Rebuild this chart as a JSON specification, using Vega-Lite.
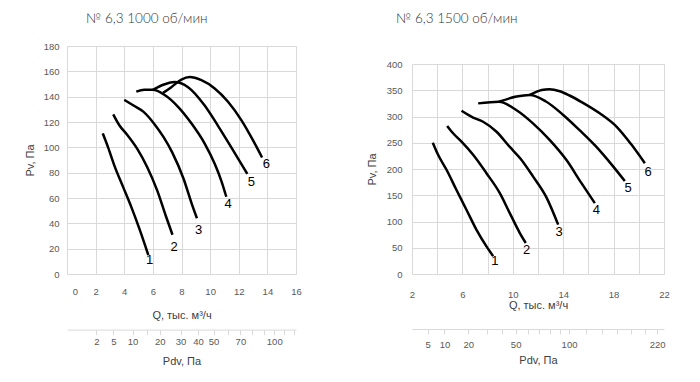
{
  "$schema": "https://vega.github.io/schema/vega-lite/v6.json",
  "padding": {"left": 24, "top": 11, "right": 5, "bottom": 5},
  "background": "white",
  "config": {
    "view": {"stroke": null},
    "font": "Liberation Sans",
    "axis": {
      "labelFont": "Liberation Sans", "labelFontSize": 9.5, "labelColor": "#595959", "labelOverlap": false, "labelFlush": false,
      "titleFont": "Liberation Sans", "titleFontSize": 11, "titleFontWeight": "normal", "titleColor": "#404040",
      "gridColor": "#d9d9d9", "gridWidth": 1, "domain": false, "ticks": false
    },
    "title": {"font": "Lato", "fontSize": 13.5, "fontWeight": 300, "color": "#333333", "anchor": "start", "frame": "group", "offset": 21}
  },
  "datasets": {
    "left": [
      {"curve": 1, "i": 1, "Q": 2.5, "P": 111}, {"curve": 1, "i": 2, "Q": 2.87, "P": 100}, {"curve": 1, "i": 3, "Q": 3.33, "P": 85}, {"curve": 1, "i": 4, "Q": 3.91, "P": 69}, {"curve": 1, "i": 5, "Q": 4.49, "P": 53}, {"curve": 1, "i": 6, "Q": 5.08, "P": 35}, {"curve": 1, "i": 7, "Q": 5.68, "P": 15},
      {"curve": 2, "i": 1, "Q": 3.23, "P": 126}, {"curve": 2, "i": 2, "Q": 3.68, "P": 117}, {"curve": 2, "i": 3, "Q": 4.2, "P": 110}, {"curve": 2, "i": 4, "Q": 4.9, "P": 99}, {"curve": 2, "i": 5, "Q": 5.6, "P": 84.5}, {"curve": 2, "i": 6, "Q": 6.3, "P": 66}, {"curve": 2, "i": 7, "Q": 6.9, "P": 46}, {"curve": 2, "i": 8, "Q": 7.37, "P": 31},
      {"curve": 3, "i": 1, "Q": 4.0, "P": 137.5}, {"curve": 3, "i": 2, "Q": 4.65, "P": 133}, {"curve": 3, "i": 3, "Q": 5.35, "P": 128}, {"curve": 3, "i": 4, "Q": 6.1, "P": 118.5}, {"curve": 3, "i": 5, "Q": 6.75, "P": 108}, {"curve": 3, "i": 6, "Q": 7.35, "P": 96}, {"curve": 3, "i": 7, "Q": 8.15, "P": 75}, {"curve": 3, "i": 8, "Q": 8.7, "P": 56}, {"curve": 3, "i": 9, "Q": 9.08, "P": 44},
      {"curve": 4, "i": 1, "Q": 4.84, "P": 144}, {"curve": 4, "i": 2, "Q": 5.4, "P": 145.4}, {"curve": 4, "i": 3, "Q": 6.0, "P": 145.4}, {"curve": 4, "i": 4, "Q": 6.8, "P": 141.5}, {"curve": 4, "i": 5, "Q": 7.76, "P": 132}, {"curve": 4, "i": 6, "Q": 8.69, "P": 119}, {"curve": 4, "i": 7, "Q": 9.62, "P": 103}, {"curve": 4, "i": 8, "Q": 10.32, "P": 87}, {"curve": 4, "i": 9, "Q": 10.8, "P": 73}, {"curve": 4, "i": 10, "Q": 11.13, "P": 61},
      {"curve": 5, "i": 1, "Q": 6.0, "P": 145.4}, {"curve": 5, "i": 2, "Q": 6.83, "P": 149.8}, {"curve": 5, "i": 3, "Q": 7.5, "P": 151.5}, {"curve": 5, "i": 4, "Q": 8.46, "P": 147.5}, {"curve": 5, "i": 5, "Q": 9.62, "P": 133}, {"curve": 5, "i": 6, "Q": 10.55, "P": 117}, {"curve": 5, "i": 7, "Q": 11.48, "P": 100}, {"curve": 5, "i": 8, "Q": 12.6, "P": 79},
      {"curve": 6, "i": 1, "Q": 6.71, "P": 143}, {"curve": 6, "i": 2, "Q": 7.29, "P": 147.5}, {"curve": 6, "i": 3, "Q": 7.99, "P": 153.5}, {"curve": 6, "i": 4, "Q": 8.57, "P": 155.5}, {"curve": 6, "i": 5, "Q": 9.39, "P": 153}, {"curve": 6, "i": 6, "Q": 10.32, "P": 146.5}, {"curve": 6, "i": 7, "Q": 11.25, "P": 136}, {"curve": 6, "i": 8, "Q": 12.18, "P": 121.5}, {"curve": 6, "i": 9, "Q": 13.0, "P": 105.5}, {"curve": 6, "i": 10, "Q": 13.63, "P": 92}
    ],
    "leftLab": [
      {"lab": "1", "Q": 5.78, "P": 11}, {"lab": "2", "Q": 7.48, "P": 21.3}, {"lab": "3", "Q": 9.2, "P": 35},
      {"lab": "4", "Q": 11.25, "P": 55}, {"lab": "5", "Q": 12.88, "P": 72.6}, {"lab": "6", "Q": 13.93, "P": 87.2}
    ],
    "leftPdv": [{"Pdv": 0}, {"Pdv": 122.1}],
    "right": [
      {"curve": 1, "i": 1, "Q": 3.65, "P": 250}, {"curve": 1, "i": 2, "Q": 4.07, "P": 227}, {"curve": 1, "i": 3, "Q": 4.74, "P": 198.5}, {"curve": 1, "i": 4, "Q": 5.53, "P": 160}, {"curve": 1, "i": 5, "Q": 6.33, "P": 122}, {"curve": 1, "i": 6, "Q": 7.12, "P": 84}, {"curve": 1, "i": 7, "Q": 7.91, "P": 52.5}, {"curve": 1, "i": 8, "Q": 8.44, "P": 34},
      {"curve": 2, "i": 1, "Q": 4.79, "P": 282}, {"curve": 2, "i": 2, "Q": 5.26, "P": 268}, {"curve": 2, "i": 3, "Q": 5.93, "P": 252}, {"curve": 2, "i": 4, "Q": 6.85, "P": 227}, {"curve": 2, "i": 5, "Q": 7.91, "P": 192}, {"curve": 2, "i": 6, "Q": 8.97, "P": 154}, {"curve": 2, "i": 7, "Q": 9.76, "P": 116}, {"curve": 2, "i": 8, "Q": 10.56, "P": 78}, {"curve": 2, "i": 9, "Q": 11.03, "P": 59},
      {"curve": 3, "i": 1, "Q": 5.93, "P": 311}, {"curve": 3, "i": 2, "Q": 6.85, "P": 298}, {"curve": 3, "i": 3, "Q": 7.64, "P": 290}, {"curve": 3, "i": 4, "Q": 8.71, "P": 271}, {"curve": 3, "i": 5, "Q": 9.76, "P": 242}, {"curve": 3, "i": 6, "Q": 10.6, "P": 220}, {"curve": 3, "i": 7, "Q": 11.6, "P": 186}, {"curve": 3, "i": 8, "Q": 12.67, "P": 146}, {"curve": 3, "i": 9, "Q": 13.6, "P": 94},
      {"curve": 4, "i": 1, "Q": 7.25, "P": 325}, {"curve": 4, "i": 2, "Q": 8.9, "P": 328}, {"curve": 4, "i": 3, "Q": 10.3, "P": 312}, {"curve": 4, "i": 4, "Q": 11.6, "P": 287}, {"curve": 4, "i": 5, "Q": 12.94, "P": 255}, {"curve": 4, "i": 6, "Q": 14.26, "P": 217}, {"curve": 4, "i": 7, "Q": 15.45, "P": 173}, {"curve": 4, "i": 8, "Q": 16.51, "P": 135},
      {"curve": 5, "i": 1, "Q": 8.9, "P": 328}, {"curve": 5, "i": 2, "Q": 10.29, "P": 338}, {"curve": 5, "i": 3, "Q": 11.35, "P": 341}, {"curve": 5, "i": 4, "Q": 12.6, "P": 329}, {"curve": 5, "i": 5, "Q": 14.0, "P": 303}, {"curve": 5, "i": 6, "Q": 15.3, "P": 274}, {"curve": 5, "i": 7, "Q": 16.6, "P": 243}, {"curve": 5, "i": 8, "Q": 17.96, "P": 205}, {"curve": 5, "i": 9, "Q": 18.89, "P": 177},
      {"curve": 6, "i": 1, "Q": 11.35, "P": 341}, {"curve": 6, "i": 2, "Q": 12.3, "P": 350.5}, {"curve": 6, "i": 3, "Q": 12.9, "P": 352}, {"curve": 6, "i": 4, "Q": 13.73, "P": 348}, {"curve": 6, "i": 5, "Q": 14.5, "P": 340}, {"curve": 6, "i": 6, "Q": 15.5, "P": 327}, {"curve": 6, "i": 7, "Q": 16.9, "P": 306}, {"curve": 6, "i": 8, "Q": 18.3, "P": 279}, {"curve": 6, "i": 9, "Q": 19.4, "P": 247}, {"curve": 6, "i": 10, "Q": 20.48, "P": 211}
    ],
    "rightLab": [
      {"lab": "1", "Q": 8.57, "P": 24}, {"lab": "2", "Q": 11.09, "P": 46.2}, {"lab": "3", "Q": 13.67, "P": 79.1},
      {"lab": "4", "Q": 16.64, "P": 122.3}, {"lab": "5", "Q": 19.15, "P": 163.6}, {"lab": "6", "Q": 20.74, "P": 195.1}
    ],
    "rightPdv": [{"Pdv": 1.912}, {"Pdv": 231.4}],
    "blank": [{"k": 1}]
  },
  "hconcat": [
    {
      "title": {"text": "№ 6,3 1000 об/мин", "dx": 19, "offset": 16},
      "width": 229, "height": 228,
      "layer": [
        {
          "encoding": {
            "x": {"field": "Q", "type": "quantitative", "scale": {"domain": [0, 16], "nice": false},
                  "axis": {"orient": "bottom", "values": [0, 2, 4, 6, 8, 10, 12, 14, 16], "labelOverlap": false, "title": "Q, тыс. м³/ч", "labelPadding": 12, "titlePadding": 14,
                           "labelOffset": {"condition": {"test": "datum.value === 0", "value": 8}, "value": 0}}},
            "y": {"field": "P", "type": "quantitative", "scale": {"domain": [0, 180], "nice": false},
                  "axis": {"values": [0, 20, 40, 60, 80, 100, 120, 140, 160, 180], "labelOverlap": false, "title": "Pv, Па", "labelPadding": 8, "titlePadding": 8}}
          },
          "layer": [
            {
              "data": {"name": "left"},
              "mark": {"type": "line", "interpolate": "monotone", "color": "black", "strokeWidth": 2.5},
              "encoding": {"detail": {"field": "curve"}, "order": {"field": "i"}}
            },
            {
              "data": {"name": "leftLab"},
              "mark": {"type": "text", "font": "Liberation Sans", "fontSize": 13, "color": "black"},
              "encoding": {"text": {"field": "lab"}}
            }
          ]
        },
        {
          "data": {"name": "leftPdv"},
          "mark": {"type": "point", "opacity": 0},
          "encoding": {
            "x": {"field": "Pdv", "type": "quantitative", "scale": {"type": "sqrt", "domain": [0, 122.1], "nice": false, "zero": false},
                  "axis": {"orient": "bottom", "offset": 55.6, "grid": false, "domain": true, "domainColor": "#d9d9d9", "ticks": true, "tickColor": "#d9d9d9", "tickSize": 5,
                           "values": [2, 5, 10, 15, 20, 30, 40, 50, 60, 70, 80, 90, 100, 110, 120], "labelOverlap": false,
                           "labelExpr": "indexof([2,5,10,20,30,40,50,70,100], datum.value) >= 0 ? datum.label : ''",
                           "labelPadding": 2, "title": "Pdv, Па", "titlePadding": 9}}
          }
        }
      ],
      "resolve": {"scale": {"x": "independent"}, "axis": {"x": "independent"}}
    },
    {
      "spacing": 0,
      "vconcat": [
        {
          "title": {"text": "№ 6,3 1500 об/мин", "dx": -16},
          "width": 252, "height": 13,
          "data": {"name": "blank"},
          "mark": {"type": "point", "opacity": 0},
          "encoding": {}
        },
        {
          "width": 252, "height": 210,
          "layer": [
            {
              "encoding": {
                "x": {"field": "Q", "type": "quantitative", "scale": {"domain": [2, 22], "nice": false, "zero": false},
                      "axis": {"orient": "bottom", "values": [2, 4, 6, 8, 10, 12, 14, 16, 18, 20, 22], "labelOverlap": false,
                               "labelExpr": "(datum.value - 2) % 4 === 0 ? datum.label : ''",
                               "title": "Q, тыс. м³/ч", "labelPadding": 15, "titlePadding": 1}},
                "y": {"field": "P", "type": "quantitative", "scale": {"domain": [0, 400], "nice": false},
                      "axis": {"values": [0, 50, 100, 150, 200, 250, 300, 350, 400], "labelOverlap": false, "title": "Pv, Па", "labelPadding": 10, "titlePadding": 9}}
              },
              "layer": [
                {
                  "data": {"name": "right"},
                  "mark": {"type": "line", "interpolate": "monotone", "color": "black", "strokeWidth": 2.5},
                  "encoding": {"detail": {"field": "curve"}, "order": {"field": "i"}}
                },
                {
                  "data": {"name": "rightLab"},
                  "mark": {"type": "text", "font": "Liberation Sans", "fontSize": 13, "color": "black"},
                  "encoding": {"text": {"field": "lab"}}
                }
              ]
            },
            {
              "data": {"name": "rightPdv"},
              "mark": {"type": "point", "opacity": 0},
              "encoding": {
                "x": {"field": "Pdv", "type": "quantitative", "scale": {"type": "sqrt", "domain": [1.912, 231.4], "nice": false, "zero": false},
                      "axis": {"orient": "bottom", "offset": 55, "grid": false, "domain": true, "domainColor": "#d9d9d9", "ticks": true, "tickColor": "#d9d9d9", "tickSize": 5,
                               "values": [5, 10, 20, 30, 40, 50, 60, 70, 80, 90, 100, 120, 140, 160, 180, 200, 220], "labelOverlap": false,
                               "labelExpr": "indexof([5,10,20,50,100,220], datum.value) >= 0 ? datum.label : ''",
                               "labelPadding": 5, "title": "Pdv, Па", "titlePadding": 6}}
              }
            }
          ],
          "resolve": {"scale": {"x": "independent"}, "axis": {"x": "independent"}}
        }
      ]
    }
  ],
  "spacing": 64
}
